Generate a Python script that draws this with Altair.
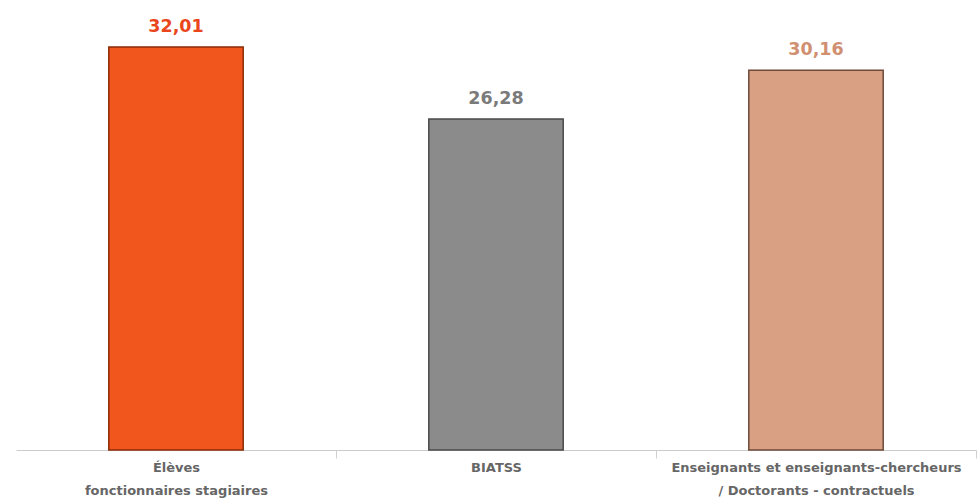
import altair as alt
import pandas as pd

# Categories (line breaks marked with "|"), values and colours
categories = [
    "Élèves|fonctionnaires stagiaires",
    "BIATSS",
    "Enseignants et enseignants-chercheurs|/ Doctorants - contractuels",
]
values = [32.01, 26.28, 30.16]
labels = ["32,01", "26,28", "30,16"]
bar_colors = ["#f1561c", "#8b8b8b", "#d9a083"]
edge_colors = ["#8a2a08", "#4a4a4a", "#6e4a38"]
label_colors = ["#e9471b", "#7a7a7a", "#d08f70"]

df = pd.DataFrame({
    "cat": categories,
    "value": values,
    "label": labels,
    "bar": bar_colors,
    "edge": edge_colors,
    "lab": label_colors,
})

STEP = 320  # width of one category band in pixels

x = alt.X(
    "cat:N",
    sort=categories,
    title=None,
    scale=alt.Scale(paddingInner=0.58, paddingOuter=0.29),
    axis=alt.Axis(
        labelExpr="split(datum.label, '|')",
        labelAngle=0,
        labelFont="DejaVu Sans",
        labelFontWeight="bold",
        labelFontSize=13,
        labelColor="#666666",
        labelLineHeight=23,
        labelPadding=3,
        labelLimit=400,
        labelOffset=-STEP / 2,
        domainColor="#cccccc",
        tickColor="#d0d0d0",
        tickOffset=STEP / 2,
        tickSize=8,
        grid=False,
    ),
)
y = alt.Y(
    "value:Q",
    scale=alt.Scale(domain=[0, 35.74], nice=False),
    axis=None,
)

bars = alt.Chart(df).mark_bar(strokeWidth=1.5).encode(
    x=x,
    y=y,
    color=alt.Color("bar:N", scale=None),
    stroke=alt.Stroke("edge:N", scale=None),
)

text = alt.Chart(df).mark_text(
    baseline="bottom",
    dy=-11,
    fontSize=17.5,
    fontWeight="bold",
    font="DejaVu Sans",
).encode(
    x=alt.X("cat:N", sort=categories),
    y=y,
    text="label:N",
    color=alt.Color("lab:N", scale=None),
)

chart = (
    alt.layer(bars, text)
    .properties(
        width=960,
        height=450,
        padding={"left": 16, "top": 0, "right": 2, "bottom": 50},
        autosize=alt.AutoSizeParams(type="none"),
        background="white",
    )
    .configure_view(stroke=None)
)

chart.save("out.html", embed_options={"renderer": "svg", "actions": False})
